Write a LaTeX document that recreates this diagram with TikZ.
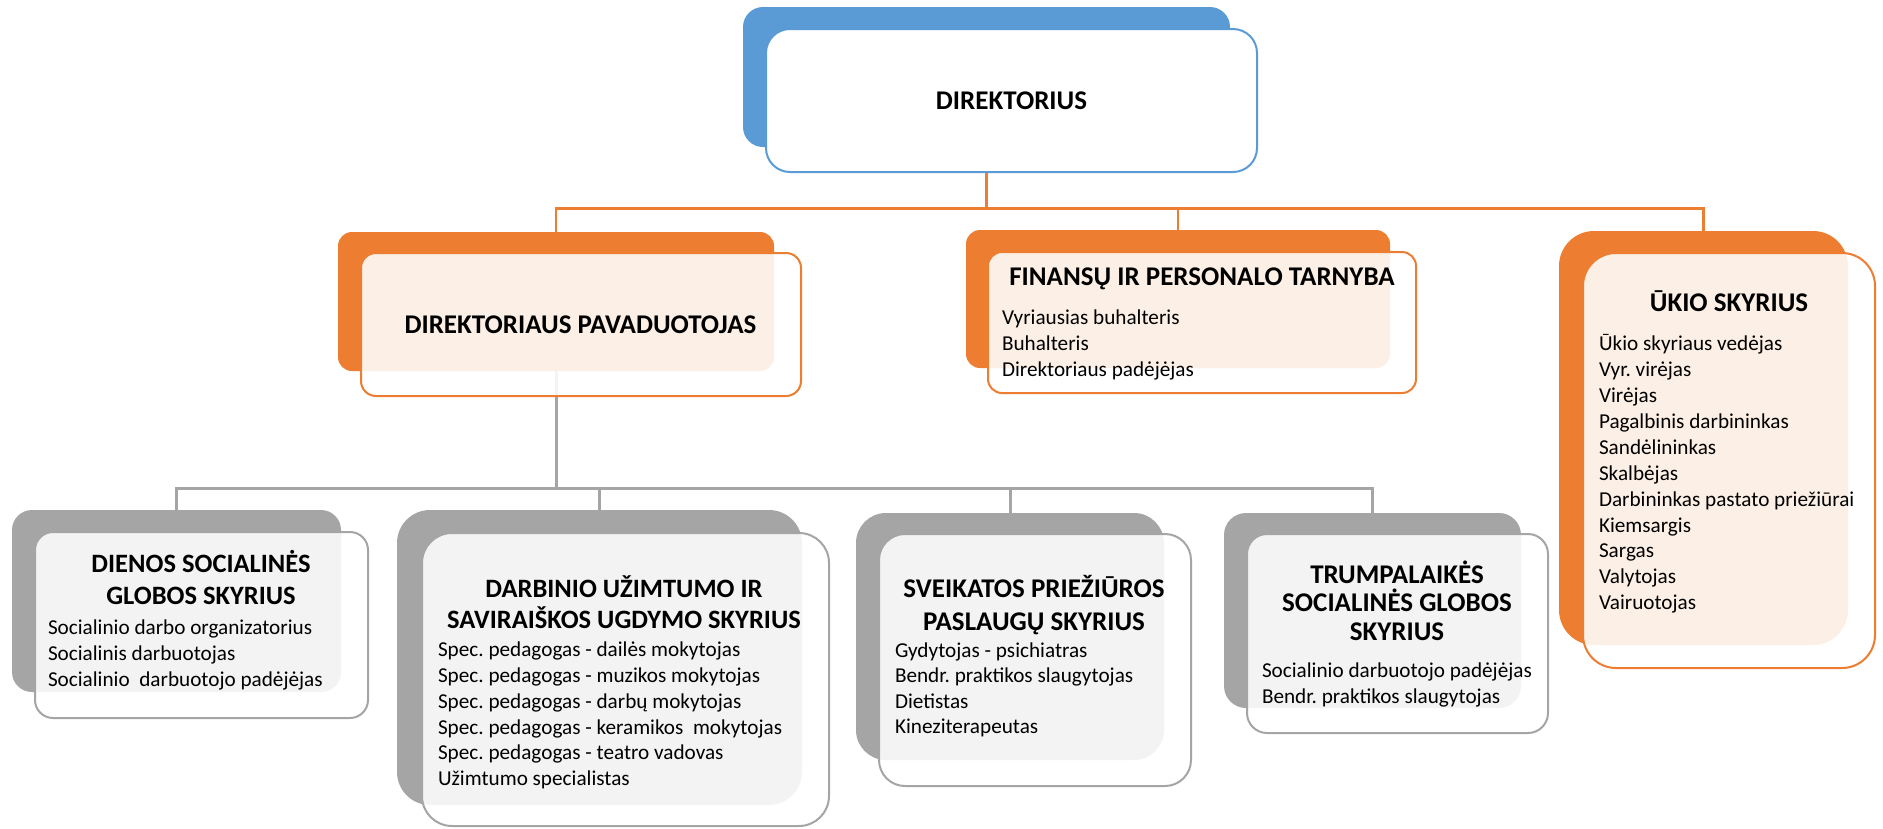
\documentclass[tikz,border=0pt]{standalone}
\usepackage{fontspec}
\setmainfont{Carlito}
\definecolor{org}{HTML}{ED7D31}
\definecolor{blu}{HTML}{5B9BD5}
\definecolor{gry}{HTML}{A5A5A5}
\newcommand\ctxt[2]{\vtop{\baselineskip=#1\relax\lineskiplimit=-100pt\halign{\hfil##\hfil\cr#2\crcr}}}
\newcommand\ltxt[2]{\vtop{\baselineskip=#1\relax\lineskiplimit=-100pt\halign{##\hfil\cr#2\crcr}}}
\tikzset{
  box/.style={rectangle, inner sep=0pt, outer sep=0pt},
  backO/.style={box, fill=org},
  backB/.style={box, fill=blu},
  backG/.style={box, fill=gry},
  frontO/.style={box, draw=org, line width=2pt, fill=white, fill opacity=0.88},
  frontB/.style={box, draw=blu, line width=2pt, fill=white},
  frontG/.style={box, draw=gry, line width=2pt, fill=white, fill opacity=0.87},
  oconn/.style={draw=org, line width=2.5pt},
  gconn/.style={draw=gry, line width=3pt},
  ttl/.style={inner sep=0pt, outer sep=0pt, font=\fontsize{27pt}{32pt}\selectfont\bfseries, anchor=base},
  sttl/.style={ttl, font=\fontsize{26.5pt}{32pt}\selectfont\bfseries},
  body/.style={inner sep=0pt, outer sep=0pt, font=\fontsize{21.2pt}{26pt}\selectfont, anchor=base west},
}
\begin{document}
\frenchspacing
\begin{tikzpicture}[x=1pt, y=-1pt]
\fill[white] (0,0) rectangle (1883,828);
\path[use as bounding box] (0,0) rectangle (1883,828);
\coordinate (busO) at (0,208.5);
\coordinate (busG) at (0,488);
% back boxes (as named nodes)
\node[backB, rounded corners=20pt, minimum width=487pt, minimum height=140pt] (dirB) at (986.5,77) {};
\node[backO, rounded corners=14pt, minimum width=436pt, minimum height=139pt] (pavB) at (556,301.5) {};
\node[backO, rounded corners=14pt, minimum width=424pt, minimum height=138pt] (finB) at (1178,299) {};
\node[backO, rounded corners=35pt, minimum width=289pt, minimum height=414pt] (ukB) at (1703.5,438) {};
\node[backG, rounded corners=20pt, minimum width=329pt, minimum height=182pt] (dieB) at (176.5,601) {};
\node[backG, rounded corners=33pt, minimum width=405pt, minimum height=295pt] (darB) at (599.5,657.5) {};
\node[backG, rounded corners=30pt, minimum width=308pt, minimum height=247pt] (svB) at (1010,636.5) {};
\node[backG, rounded corners=22pt, minimum width=297pt, minimum height=195pt] (trB) at (1372.5,610.5) {};
% connectors
\draw[oconn] (dirB.south) |- (pavB.north |- busO) -- (pavB.north);
\draw[oconn] (dirB.south) |- (finB.north |- busO) -- (finB.north);
\draw[oconn] (dirB.south) |- (ukB.north |- busO) -- (ukB.north);
\draw[gconn] (pavB.south) |- (dieB.north |- busG) -- (dieB.north);
\draw[gconn] (pavB.south) |- (darB.north |- busG) -- (darB.north);
\draw[gconn] (pavB.south) |- (svB.north |- busG) -- (svB.north);
\draw[gconn] (pavB.south) |- (trB.north |- busG) -- (trB.north);
% front boxes
\node[frontB, rounded corners=24pt, minimum width=491pt, minimum height=143pt] (dirF) at (1011.5,100.5) {};
\node[frontO, rounded corners=15pt, minimum width=440pt, minimum height=143pt] (pavF) at (581,324.5) {};
\node[frontO, rounded corners=14pt, minimum width=428pt, minimum height=141pt] (finF) at (1202,322.5) {};
\node[frontO, rounded corners=33pt, minimum width=292pt, minimum height=415pt] (ukF) at (1729,460.5) {};
\node[frontG, rounded corners=18pt, minimum width=333pt, minimum height=186pt] (dieF) at (201.5,625) {};
\node[frontG, rounded corners=30pt, minimum width=407pt, minimum height=293pt] (darF) at (625.5,679.5) {};
\node[frontG, rounded corners=26pt, minimum width=312pt, minimum height=252pt] (svF) at (1035,660) {};
\node[frontG, rounded corners=20pt, minimum width=301pt, minimum height=199pt] (trF) at (1397.5,633.5) {};
% texts
\node[ttl] (tDir) at (1011.5,109) {DIREKTORIUS};
\node[ttl] (tPav) at (580.5,333) {DIREKTORIAUS PAVADUOTOJAS};
\node[ttl] (tFin) at (1202,285.7) {FINANSŲ IR PERSONALO TARNYBA};
\node[body] (bFin) at (1002,324.5) {\ltxt{26.2pt}{Vyriausias buhalteris\cr Buhalteris\cr Direktoriaus padėjėjas}};
\node[ttl] (tUk) at (1729,311.7) {ŪKIO SKYRIUS};
\node[body] (bUk) at (1599,350.7) {\ltxt{25.9pt}{Ūkio skyriaus vedėjas\cr Vyr. virėjas\cr Virėjas\cr Pagalbinis darbininkas\cr Sandėlininkas\cr Skalbėjas\cr Darbininkas pastato priežiūrai\cr Kiemsargis\cr Sargas\cr Valytojas\cr Vairuotojas}};
\node[sttl] (tDie) at (201,572) {\ctxt{32pt}{DIENOS SOCIALINĖS\cr GLOBOS SKYRIUS}};
\node[body] (bDie) at (48,634.5) {\ltxt{25.8pt}{Socialinio darbo organizatorius\cr Socialinis darbuotojas\cr Socialinio\ \ darbuotojo padėjėjas}};
\node[sttl] (tDar) at (624,597) {\ctxt{31pt}{DARBINIO UŽIMTUMO IR\cr SAVIRAIŠKOS UGDYMO SKYRIUS}};
\node[body] (bDar) at (438,656.7) {\ltxt{25.8pt}{Spec. pedagogas - dailės mokytojas\cr Spec. pedagogas - muzikos mokytojas\cr Spec. pedagogas - darbų mokytojas\cr Spec. pedagogas - keramikos\ \ mokytojas\cr Spec. pedagogas - teatro vadovas\cr Užimtumo specialistas}};
\node[ttl] (tSv) at (1034,597.5) {\ctxt{33pt}{SVEIKATOS PRIEŽIŪROS\cr PASLAUGŲ SKYRIUS}};
\node[body] (bSv) at (895,657) {\ltxt{25.6pt}{Gydytojas - psichiatras\cr Bendr. praktikos slaugytojas\cr Dietistas\cr Kineziterapeutas}};
\node[ttl] (tTr) at (1397,583) {\ctxt{28.6pt}{TRUMPALAIKĖS\cr SOCIALINĖS GLOBOS\cr SKYRIUS}};
\node[body] (bTr) at (1262,677) {\ltxt{26.3pt}{Socialinio darbuotojo padėjėjas\cr Bendr. praktikos slaugytojas}};
\end{tikzpicture}
\end{document}
